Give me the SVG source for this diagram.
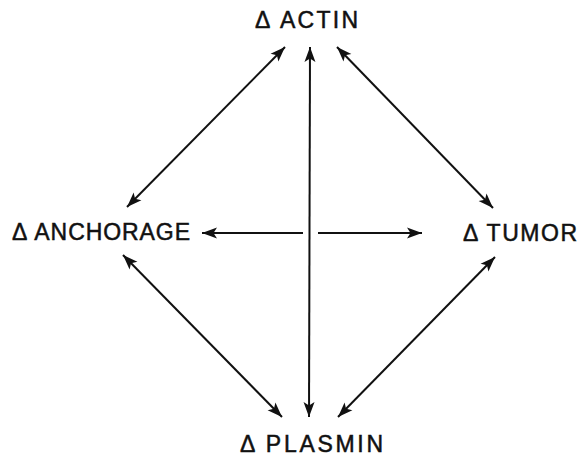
<svg xmlns="http://www.w3.org/2000/svg" width="580" height="457" viewBox="0 0 580 457">
<style>
.lbl{font-family:"Liberation Sans",Arial,sans-serif;font-size:23px;fill:#111;stroke:#111;stroke-width:0.5;}
.c{stroke:#111;stroke-width:2;fill:none;}
</style>
<defs>
<marker id="ah" markerUnits="userSpaceOnUse" markerWidth="18" markerHeight="14" refX="15" refY="7" orient="auto-start-reverse" viewBox="0 0 18 14">
<path d="M0,1.5 L15,7 L0,12.5 L3.5,7 Z" fill="#111"/>
</marker>
</defs>
<rect width="580" height="457" fill="#fff"/>
<g id="actin"><text class="lbl" x="255" y="28" textLength="103" lengthAdjust="spacing">Δ ACTIN</text></g>
<g id="anchorage"><text class="lbl" x="12" y="240" textLength="178" lengthAdjust="spacing">Δ ANCHORAGE</text></g>
<g id="tumor"><text class="lbl" x="463" y="241" textLength="114" lengthAdjust="spacing">Δ TUMOR</text></g>
<g id="plasmin"><text class="lbl" x="240" y="452" textLength="143" lengthAdjust="spacing">Δ PLASMIN</text></g>
<g id="connectors">
<line class="c" x1="310" y1="47" x2="309" y2="417" marker-start="url(#ah)" marker-end="url(#ah)"/>
<line class="c" x1="285" y1="47" x2="127" y2="207" marker-start="url(#ah)" marker-end="url(#ah)"/>
<line class="c" x1="337" y1="47" x2="493" y2="208" marker-start="url(#ah)" marker-end="url(#ah)"/>
<line class="c" x1="123" y1="255" x2="282" y2="417" marker-start="url(#ah)" marker-end="url(#ah)"/>
<line class="c" x1="495" y1="257" x2="338" y2="417" marker-start="url(#ah)" marker-end="url(#ah)"/>
<line class="c" x1="303" y1="233" x2="202" y2="233" marker-end="url(#ah)"/>
<line class="c" x1="318" y1="233" x2="422" y2="233" marker-end="url(#ah)"/>
</g>
</svg>
